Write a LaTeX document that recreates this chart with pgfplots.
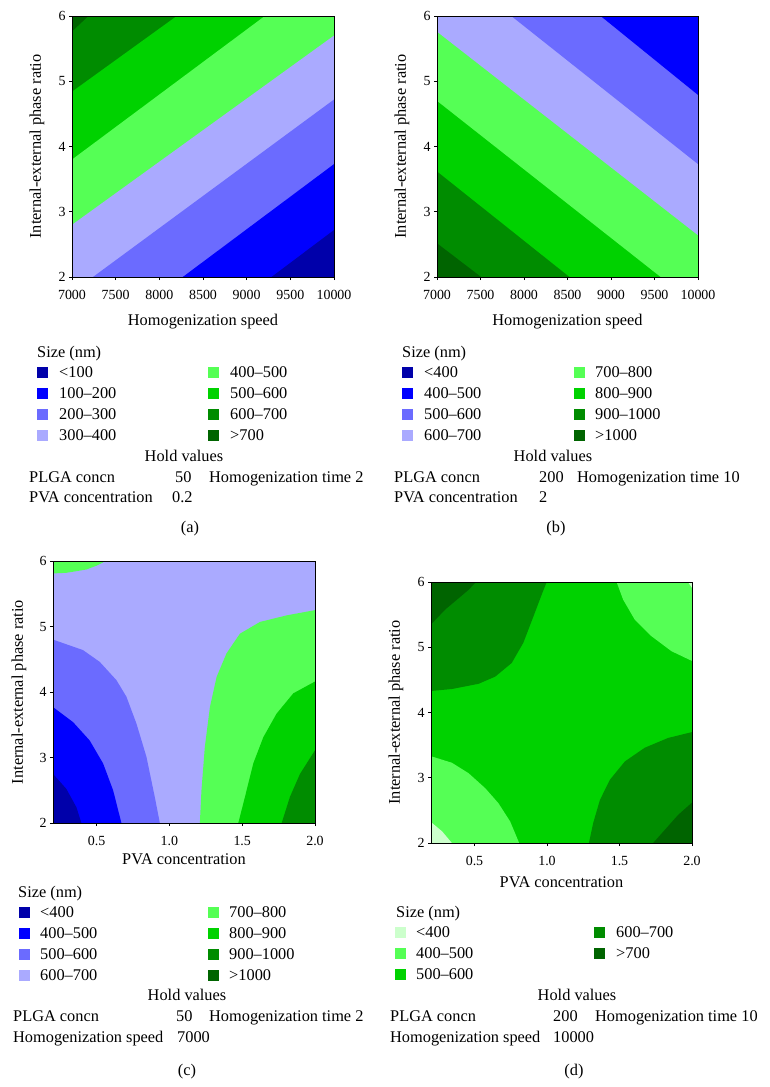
\documentclass[border=0pt]{standalone}
\usepackage{pgfplots}
\pgfplotsset{compat=1.18}
\usepackage{fontspec}
\setmainfont{Liberation Serif}
\definecolor{c0}{RGB}{204,255,204}
\definecolor{c1}{RGB}{0,0,170}
\definecolor{c2}{RGB}{0,0,255}
\definecolor{c3}{RGB}{107,107,255}
\definecolor{c4}{RGB}{170,170,255}
\definecolor{c5}{RGB}{85,255,85}
\definecolor{c6}{RGB}{0,210,0}
\definecolor{c7}{RGB}{0,140,0}
\definecolor{c8}{RGB}{0,100,0}
\newcommand{\fs}{\fontsize{16.4}{19}\selectfont}
\newcommand{\ts}{\fontsize{14}{16}\selectfont}
\newcommand{\key}[1]{\textcolor{#1}{\rule[-1bp]{11bp}{11bp}}}
\pgfplotsset{
  cplot/.style={
    scale only axis, axis on top, enlargelimits=false,
    ymin=2, ymax=6, ytick={2,3,4,5,6},
    tick pos=left, tick align=outside, major tick length=3bp,
    tick style={black, line width=0.6pt},
    axis line style={line width=0.7pt},
    /pgf/number format/assume math mode=true,
    xticklabel style={anchor=base, yshift=-19bp},
    yticklabel={\ts\pgfmathprintnumber{\tick}},
    label style={font=\fs},
    ylabel={Internal-external phase ratio},
  },
  speed/.style={xmin=7000, xmax=10000, xtick={7000,7500,...,10000},
    scaled x ticks=false,
    xticklabel={\ts\pgfmathprintnumber[set thousands separator={}]{\tick}},
    xlabel={Homogenization speed}},
  pva/.style={xmin=0.2, xmax=2, xtick={0.5,1.0,1.5,2.0},
    xticklabel={\ts\pgfmathprintnumber[fixed, fixed zerofill, precision=1]{\tick}},
    xlabel={PVA concentration}},
}
\begin{document}
\begin{tikzpicture}
\useasboundingbox (0,0) rectangle (770bp,-1087bp);
% (a)
\begin{axis}[cplot, speed, at={(72bp,-277bp)}, anchor=south west, width=262bp, height=261bp,
  ylabel style={at={(axis description cs:-0.134,0.5)}, anchor=center},
  xlabel style={at={(axis description cs:0.5,-0.184)}, anchor=base}]
\addplot[fill=c8, draw=none] coordinates {(7000,2)(10000,2)(10000,6)(7000,6)} -- cycle;
\addplot[fill=c7, draw=none] coordinates {(7000,2)(10000,2)(10000,6)(7190,6)(7000,5.76)} -- cycle;
\addplot[fill=c6, draw=none] coordinates {(7000,2)(10000,2)(10000,6)(8200,6)(7000,4.84)} -- cycle;
\addplot[fill=c5, draw=none] coordinates {(7000,2)(10000,2)(10000,6)(9208,6)(7000,3.80)} -- cycle;
\addplot[fill=c4, draw=none] coordinates {(7000,2)(10000,2)(10000,5.70)(7000,2.80)} -- cycle;
\addplot[fill=c3, draw=none] coordinates {(7240,2)(10000,2)(10000,4.72)} -- cycle;
\addplot[fill=c2, draw=none] coordinates {(8268,2)(10000,2)(10000,3.73)} -- cycle;
\addplot[fill=c1, draw=none] coordinates {(9284,2)(10000,2)(10000,2.72)} -- cycle;
\end{axis}
% (b)
\begin{axis}[cplot, speed, at={(437bp,-277bp)}, anchor=south west, width=261bp, height=261bp,
  ylabel style={at={(axis description cs:-0.134,0.5)}, anchor=center},
  xlabel style={at={(axis description cs:0.5,-0.184)}, anchor=base}]
\addplot[fill=c8, draw=none] coordinates {(7000,2)(10000,2)(10000,6)(7000,6)} -- cycle;
\addplot[fill=c7, draw=none] coordinates {(7000,2.52)(7510,2)(10000,2)(10000,6)(7000,6)} -- cycle;
\addplot[fill=c6, draw=none] coordinates {(7000,3.62)(8525,2)(10000,2)(10000,6)(7000,6)} -- cycle;
\addplot[fill=c5, draw=none] coordinates {(7000,4.70)(9571,2)(10000,2)(10000,6)(7000,6)} -- cycle;
\addplot[fill=c4, draw=none] coordinates {(7000,5.76)(10000,2.64)(10000,6)(7000,6)} -- cycle;
\addplot[fill=c3, draw=none] coordinates {(7854,6)(10000,3.73)(10000,6)} -- cycle;
\addplot[fill=c2, draw=none] coordinates {(8881,6)(10000,4.79)(10000,6)} -- cycle;
\end{axis}
% (c)
\begin{axis}[cplot, pva, at={(53bp,-823bp)}, anchor=south west, width=262bp, height=262bp,
  ylabel style={at={(axis description cs:-0.130,0.5)}, anchor=center},
  xlabel style={at={(axis description cs:0.5,-0.160)}, anchor=base}]
\addplot[fill=c4, draw=none] coordinates {(0.2,2)(2,2)(2,6)(0.2,6)} -- cycle;
\addplot[fill=c5, draw=none] coordinates {(0.2,6)(0.2,5.81)(0.292,5.82)(0.429,5.87)(0.50,5.93)(0.562,6)} -- cycle;
\addplot[fill=c3, draw=none] coordinates {(0.2,2)(0.2,4.80)(0.406,4.64)(0.521,4.46)(0.636,4.18)(0.704,3.93)(0.773,3.52)(0.842,3.01)(0.899,2.40)(0.934,2.0)} -- cycle;
\addplot[fill=c2, draw=none] coordinates {(0.2,2)(0.2,3.77)(0.338,3.54)(0.452,3.26)(0.544,2.91)(0.613,2.50)(0.670,2.0)} -- cycle;
\addplot[fill=c1, draw=none] coordinates {(0.2,2)(0.2,2.75)(0.292,2.52)(0.361,2.24)(0.395,2.0)} -- cycle;
\addplot[fill=c5, draw=none] coordinates {(2,2)(2,5.25)(1.805,5.17)(1.622,5.07)(1.484,4.89)(1.392,4.59)(1.324,4.23)(1.278,3.77)(1.243,3.16)(1.220,2.50)(1.209,2.0)} -- cycle;
\addplot[fill=c6, draw=none] coordinates {(2,2)(2,4.16)(1.851,3.98)(1.736,3.67)(1.645,3.31)(1.576,2.91)(1.519,2.40)(1.473,2.0)} -- cycle;
\addplot[fill=c7, draw=none] coordinates {(2,2)(2,3.11)(1.897,2.75)(1.828,2.40)(1.771,2.0)} -- cycle;
\end{axis}
% (d)
\begin{axis}[cplot, pva, at={(431bp,-843bp)}, anchor=south west, width=261bp, height=261bp,
  ylabel style={at={(axis description cs:-0.134,0.5)}, anchor=center},
  xlabel style={at={(axis description cs:0.5,-0.169)}, anchor=base}]
\addplot[fill=c6, draw=none] coordinates {(0.2,2)(2,2)(2,6)(0.2,6)} -- cycle;
\addplot[fill=c7, draw=none] coordinates {(0.2,6)(0.2,4.33)(0.344,4.36)(0.528,4.44)(0.643,4.55)(0.757,4.76)(0.837,5.07)(0.906,5.47)(0.964,5.81)(0.998,6.0)} -- cycle;
\addplot[fill=c8, draw=none] coordinates {(0.2,6)(0.2,5.35)(0.299,5.58)(0.390,5.75)(0.459,5.88)(0.510,6.0)} -- cycle;
\addplot[fill=c5, draw=none] coordinates {(2,6)(1.480,6)(1.525,5.73)(1.606,5.42)(1.720,5.17)(1.858,4.94)(2.0,4.79)} -- cycle;
\addplot[fill=c0, draw=none] coordinates {(2,6)(1.972,6)(2.0,5.91)} -- cycle;
\addplot[fill=c5, draw=none] coordinates {(0.2,2)(0.2,3.33)(0.344,3.23)(0.459,3.07)(0.574,2.84)(0.665,2.61)(0.746,2.33)(0.808,2.0)} -- cycle;
\addplot[fill=c0, draw=none] coordinates {(0.2,2)(0.2,2.32)(0.276,2.18)(0.344,2.0)} -- cycle;
\addplot[fill=c7, draw=none] coordinates {(2,2)(2,3.70)(1.835,3.61)(1.674,3.46)(1.537,3.25)(1.434,2.97)(1.365,2.66)(1.319,2.31)(1.289,2.0)} -- cycle;
\addplot[fill=c8, draw=none] coordinates {(2,2)(2,2.62)(1.904,2.43)(1.812,2.20)(1.732,2.0)} -- cycle;
\end{axis}
% legends and hold values
\begin{scope}[x=1bp, y=-1bp, every node/.style={inner sep=0pt, font=\fs}]
% (a)
\node[anchor=base west] at (37,357) {Size (nm)};
\node[anchor=base west] at (37,377) {\key{c1}}; \node[anchor=base west] at (59,377) {<100};
\node[anchor=base west] at (37,398) {\key{c2}}; \node[anchor=base west] at (59,398) {100--200};
\node[anchor=base west] at (37,419) {\key{c3}}; \node[anchor=base west] at (59,419) {200--300};
\node[anchor=base west] at (37,440) {\key{c4}}; \node[anchor=base west] at (59,440) {300--400};
\node[anchor=base west] at (208,377) {\key{c5}}; \node[anchor=base west] at (230,377) {400--500};
\node[anchor=base west] at (208,398) {\key{c6}}; \node[anchor=base west] at (230,398) {500--600};
\node[anchor=base west] at (208,419) {\key{c7}}; \node[anchor=base west] at (230,419) {600--700};
\node[anchor=base west] at (208,440) {\key{c8}}; \node[anchor=base west] at (230,440) {>700};
\node[anchor=base] at (184,461) {Hold values};
\node[anchor=base west] at (29,482) {PLGA concn};
\node[anchor=base west] at (175,482) {50};
\node[anchor=base west] at (209,482) {Homogenization time 2};
\node[anchor=base west] at (29,502) {PVA concentration};
\node[anchor=base west] at (172,502) {0.2};
\node[anchor=base] at (190,532) {(a)};
% (b)
\node[anchor=base west] at (402,357) {Size (nm)};
\node[anchor=base west] at (402,377) {\key{c1}}; \node[anchor=base west] at (424,377) {<400};
\node[anchor=base west] at (402,398) {\key{c2}}; \node[anchor=base west] at (424,398) {400--500};
\node[anchor=base west] at (402,419) {\key{c3}}; \node[anchor=base west] at (424,419) {500--600};
\node[anchor=base west] at (402,440) {\key{c4}}; \node[anchor=base west] at (424,440) {600--700};
\node[anchor=base west] at (574,377) {\key{c5}}; \node[anchor=base west] at (595,377) {700--800};
\node[anchor=base west] at (574,398) {\key{c6}}; \node[anchor=base west] at (595,398) {800--900};
\node[anchor=base west] at (574,419) {\key{c7}}; \node[anchor=base west] at (595,419) {900--1000};
\node[anchor=base west] at (574,440) {\key{c8}}; \node[anchor=base west] at (595,440) {>1000};
\node[anchor=base] at (553,461) {Hold values};
\node[anchor=base west] at (394,482) {PLGA concn};
\node[anchor=base west] at (539,482) {200};
\node[anchor=base west] at (577,482) {Homogenization time 10};
\node[anchor=base west] at (394,502) {PVA concentration};
\node[anchor=base west] at (539,502) {2};
\node[anchor=base] at (556,532) {(b)};
% (c)
\node[anchor=base west] at (18,897) {Size (nm)};
\node[anchor=base west] at (19,917) {\key{c1}}; \node[anchor=base west] at (40,917) {<400};
\node[anchor=base west] at (19,938) {\key{c2}}; \node[anchor=base west] at (40,938) {400--500};
\node[anchor=base west] at (19,959) {\key{c3}}; \node[anchor=base west] at (40,959) {500--600};
\node[anchor=base west] at (19,980) {\key{c4}}; \node[anchor=base west] at (40,980) {600--700};
\node[anchor=base west] at (208,917) {\key{c5}}; \node[anchor=base west] at (229,917) {700--800};
\node[anchor=base west] at (208,938) {\key{c6}}; \node[anchor=base west] at (229,938) {800--900};
\node[anchor=base west] at (208,959) {\key{c7}}; \node[anchor=base west] at (229,959) {900--1000};
\node[anchor=base west] at (208,980) {\key{c8}}; \node[anchor=base west] at (229,980) {>1000};
\node[anchor=base] at (187,1000) {Hold values};
\node[anchor=base west] at (13,1021) {PLGA concn};
\node[anchor=base west] at (176,1021) {50};
\node[anchor=base west] at (209,1021) {Homogenization time 2};
\node[anchor=base west] at (13,1042) {Homogenization speed};
\node[anchor=base west] at (177,1042) {7000};
\node[anchor=base] at (187,1075) {(c)};
% (d)
\node[anchor=base west] at (396,917) {Size (nm)};
\node[anchor=base west] at (395,937) {\key{c0}}; \node[anchor=base west] at (416,937) {<400};
\node[anchor=base west] at (395,958) {\key{c5}}; \node[anchor=base west] at (416,958) {400--500};
\node[anchor=base west] at (395,979) {\key{c6}}; \node[anchor=base west] at (416,979) {500--600};
\node[anchor=base west] at (594,937) {\key{c7}}; \node[anchor=base west] at (616,937) {600--700};
\node[anchor=base west] at (594,958) {\key{c8}}; \node[anchor=base west] at (616,958) {>700};
\node[anchor=base] at (577,1000) {Hold values};
\node[anchor=base west] at (390,1021) {PLGA concn};
\node[anchor=base west] at (553,1021) {200};
\node[anchor=base west] at (595,1021) {Homogenization time 10};
\node[anchor=base west] at (390,1042) {Homogenization speed};
\node[anchor=base west] at (553,1042) {10000};
\node[anchor=base] at (574,1075) {(d)};
\end{scope}
\end{tikzpicture}
\end{document}
